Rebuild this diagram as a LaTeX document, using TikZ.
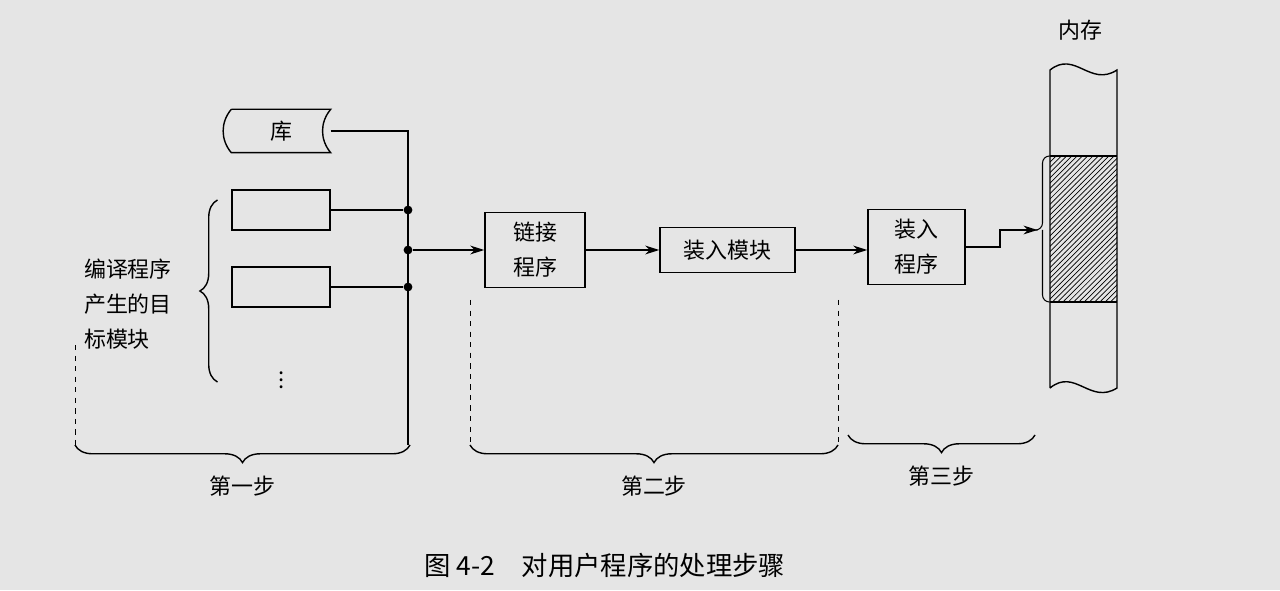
\documentclass[tikz,border=0pt]{standalone}
\usepackage{fontspec}
\setmainfont{Noto Sans CJK SC}
\usepackage{tikz}
\usetikzlibrary{arrows.meta,decorations.pathreplacing,patterns}

\begin{document}
\begin{tikzpicture}[line width=0.8pt, font=\fontsize{12.5}{20}\selectfont,
  box/.style={draw, rectangle, minimum width=1.96cm, minimum height=0.8cm, inner sep=0pt},
  flow/.style={-{Stealth[length=8pt,width=5pt]}},
  dot/.style={circle, fill, inner sep=0pt, minimum size=5pt},
  brc/.style={decorate, decoration={brace, amplitude=10pt}}]
\fill[black!10] (0,0) rectangle (25.6,11.8);
\useasboundingbox (0,0) rectangle (25.6,11.8);

% library and object modules
\node[box, draw=none, minimum height=0.84cm] (lib) at (5.62,9.18) {库};
\draw (lib.north west) -- (lib.north east) to[bend right=40] (lib.south east)
  -- (lib.south west) to[bend left=40] (lib.north west);
\node[box] (obj1) at (5.62,7.6) {};
\node[box] (obj2) at (5.62,6.06) {};
\node at (5.64,4.3) {$\vdots$};

\coordinate (top) at (8.16,9.18);
\node[dot] (j1) at (8.16,7.6) {};
\node[dot] (j2) at (8.16,6.8) {};
\node[dot] (j3) at (8.16,6.06) {};
\coordinate (bot) at (8.16,2.9);
\draw (lib.east) -- (top) -- (bot);
\draw (obj1.east) -- (j1);
\draw (obj2.east) -- (j3);

\node[align=left, anchor=west] (objtxt) at (1.55,5.72) {编译程序\\产生的目\\标模块};
\draw[brc] (4.35,4.16) -- (4.35,7.8);

% linker and loader
\node[box, minimum width=2cm, minimum height=1.5cm, align=center] (link) at (10.7,6.8) {链接\\程序};
\node[box, minimum width=2.7cm, minimum height=0.9cm] (mod) at (14.55,6.8) {装入模块};
\node[box, minimum width=1.94cm, minimum height=1.5cm, align=center] (load) at (18.33,6.86) {装入\\程序};
\draw[flow] (j2) -- (link);
\draw[flow] (link) -- (mod);
\draw[flow] (mod) -- (load.west |- mod);

% memory
\node (memtxt) at (21.6,11.2) {内存};
\fill[pattern=north east lines] (21.0,5.76) rectangle (22.34,8.68);
\draw (21.0,4.04) -- (21.0,10.4) .. controls (21.5,10.8) and (21.8,10.05) .. (22.34,10.4) -- (22.34,4.04)
  .. controls (21.8,3.7) and (21.5,4.45) .. (21.0,4.04);
\draw (21.0,8.68) -- (22.34,8.68);
\draw (21.0,5.76) -- (22.34,5.76);
\coordinate (memin) at (20.75,7.2);
\draw[flow] (load.east) -- (20.0,6.86) -- (20.0,7.2) -- (memin);
\draw[line width=0.6pt, rounded corners=4pt] (20.98,8.68) -- (20.85,8.68) -- (20.85,7.2) -- (memin)
  (20.85,7.2) -- (20.85,5.76) -- (20.98,5.76);

% steps
\draw[dashed, line width=0.5pt] (1.5,4.9) -- (1.5,2.9);
\draw[dashed, line width=0.5pt] (9.4,5.8) -- (9.4,2.9);
\draw[dashed, line width=0.5pt] (16.76,5.8) -- (16.76,2.9);
\draw[brc] (8.2,2.9) -- (1.5,2.9) node[midway, below=14pt] {第一步};
\draw[brc] (16.76,2.9) -- (9.4,2.9) node[midway, below=14pt] {第二步};
\draw[brc] (20.7,3.1) -- (16.96,3.1) node[midway, below=14pt] {第三步};

\node[font=\fontsize{15}{18}\selectfont] (cap) at (12.1,0.5) {图 4-2\quad 对用户程序的处理步骤};
\end{tikzpicture}
\end{document}
